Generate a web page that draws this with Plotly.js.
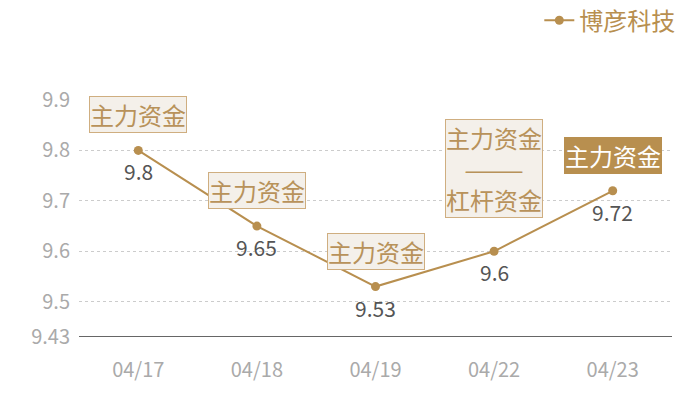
<!DOCTYPE html>
<html><head><meta charset="utf-8">
<script src="https://cdn.plot.ly/plotly-3.0.1.min.js"></script>
<style>html,body{margin:0;padding:0;background:#fff}#c{width:700px;height:400px}</style>
</head><body><div id="c"></div>
<script>
const dates = ["04/17","04/18","04/19","04/22","04/23"];
const prices = [9.8, 9.65, 9.53, 9.6, 9.72];
const priceLabels = ["9.8","9.65","9.53","9.6","9.72"];
const seriesName = "博彦科技";
const tags = ["主力资金","主力资金","主力资金","主力资金<br>———<br>杠杆资金","主力资金"];
const tagFilled = [false,false,false,false,true];
const yTicks = [9.43, 9.5, 9.6, 9.7, 9.8, 9.9];
const yTickText = ["9.43","9.5","9.6","9.7","9.8","9.9"];

const gold = "#b88f4f";
const font = "Noto Sans CJK SC, Noto Sans, sans-serif";

const trace = {
  x: dates, y: prices, type: "scatter", mode: "lines+markers",
  name: seriesName,
  line: {color: gold, width: 2},
  marker: {color: gold, size: 9}
};

const tagAnnotations = dates.map((d, i) => ({
  x: d, y: prices[i], xref: "x", yref: "y",
  text: tags[i], showarrow: false,
  yanchor: "bottom", yshift: i === 3 ? 33 : 17,
  font: {family: font, size: 24, color: tagFilled[i] ? "#fff" : "#b8925a"},
  bgcolor: tagFilled[i] ? gold : "#f4f0ea",
  bordercolor: tagFilled[i] ? gold : "#cfae80",
  borderwidth: 1, borderpad: 0
}));

const valueAnnotations = dates.map((d, i) => ({
  x: d, y: prices[i], xref: "x", yref: "y",
  text: priceLabels[i], showarrow: false,
  yanchor: "middle", yshift: -21,
  font: {family: font, size: 21, color: "#555"}
}));

const layout = {
  width: 700, height: 400,
  margin: {l: 79, r: 28, t: 100, b: 63, autoexpand: false},
  paper_bgcolor: "#fff", plot_bgcolor: "#fff",
  showlegend: true,
  legend: {x: 1.014, xanchor: "right", y: 1.335, yanchor: "middle", orientation: "h",
    font: {family: font, size: 24, color: gold}, bgcolor: "rgba(0,0,0,0)"},
  xaxis: {type: "category", range: [-0.5, 4.5], showgrid: false, zeroline: false,
    showline: false, ticks: "", ticklabelstandoff: 19, tickfont: {family: font, size: 20, color: "#aaa"}},
  yaxis: {range: [9.43, 9.9], tickvals: yTicks, ticktext: yTickText, showgrid: true,
    gridcolor: "#ccc", griddash: "dot", gridwidth: 1, zeroline: false, showline: false,
    ticks: "", ticklabelstandoff: 8, tickfont: {family: font, size: 20, color: "#aaa"}},
  shapes: [{type: "line", xref: "paper", yref: "y", x0: 0, x1: 1, y0: 9.43, y1: 9.43,
    line: {color: "#333", width: 1.5}}],
  annotations: tagAnnotations.concat(valueAnnotations)
};

Plotly.newPlot("c", [trace], layout, {displayModeBar: false, staticPlot: true});
</script></body></html>
